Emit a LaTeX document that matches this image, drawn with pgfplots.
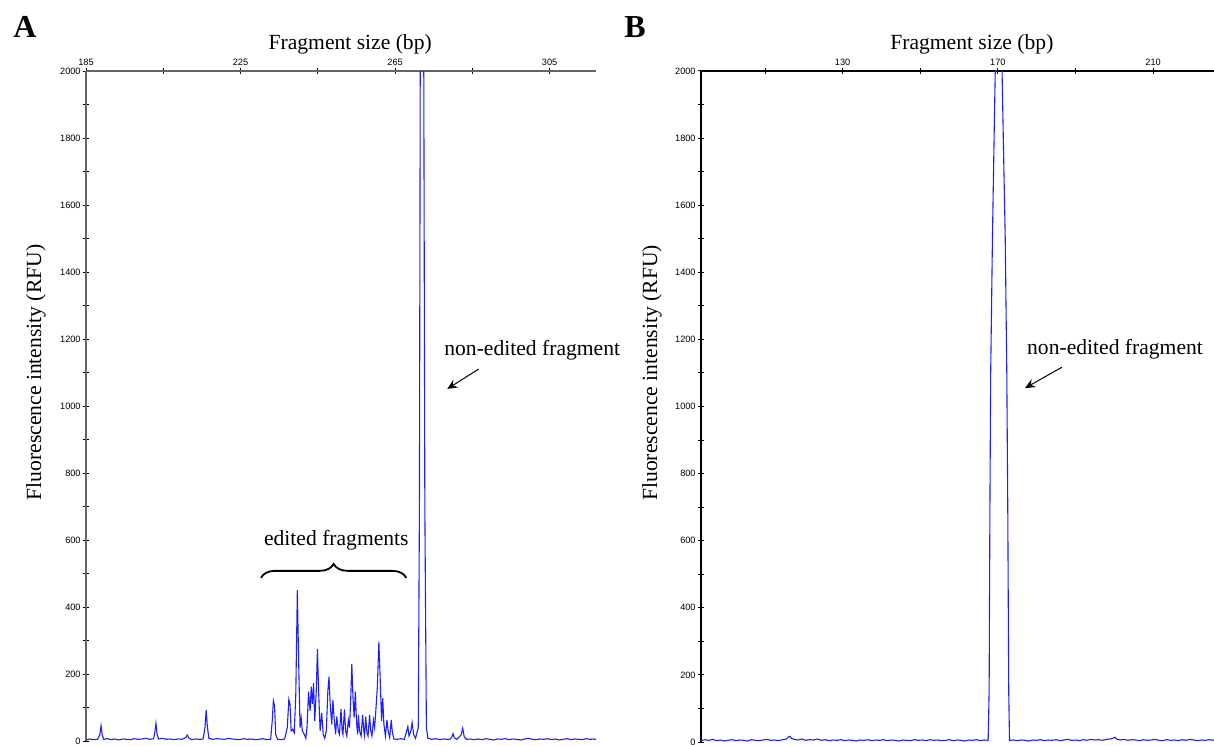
\documentclass[border=0pt]{standalone}
\usepackage{fontspec}
\setmainfont{Liberation Serif}
\newfontfamily\arial{Liberation Sans}
\usepackage{pgfplots}
\pgfplotsset{compat=1.18}
\usetikzlibrary{decorations.pathreplacing,arrows.meta}
\definecolor{trace}{RGB}{30,30,255}
\definecolor{axgray}{RGB}{100,100,100}

\pgfplotsset{gm/.style={
  scale only axis, ymin=0, ymax=2000, clip mode=individual,
  axis x line=top, axis y line=left,
  axis line style={-, line width=0.7pt},
  tick align=center, major tick length=3pt,
  tick style={black, line width=0.5pt},
  ytick={0,100,...,2000},
  yticklabels={0,,200,,400,,600,,800,,1000,,1200,,1400,,1600,,1800,,2000},
  tick label style={font=\arial\fontsize{4.6}{5.5}\selectfont},
  /pgf/number format/assume math mode=true,
  yticklabel style={inner sep=1pt},
  xticklabel style={inner sep=1pt},
  xlabel={Fragment size (bp)}, ylabel={Fluorescence intensity (RFU)},
  label style={font=\fontsize{10.8}{13}\selectfont},
}}

\begin{document}
\begin{tikzpicture}
\useasboundingbox (0,0) rectangle (607pt,372.5pt);

% panel A
\begin{axis}[gm, at={(43pt,2pt)}, anchor=south west, width=255pt, height=335pt,
  axis line style={axgray},
  xmin=185, xmax=317,
  xtick={185,205,...,305}, xticklabels={185,,225,,265,,305},
  xlabel style={at={(axis description cs:0.518,1.04)}, anchor=center},
  ylabel style={at={(axis description cs:-0.098,0.55)}, anchor=center}]
\addplot[trace, line width=0.55pt] table {
185 3
186 6
187 4
188 5
188.6 20
188.9 46
189.2 18
189.6 5
190.5 7
191.5 4
192.5 6
193.5 3
194.5 6
195.5 5
196.5 4
197.5 7
198.5 5
199.5 6
200.5 8
201.5 5
202.5 7
202.8 25
203.1 53
203.4 20
203.8 6
204.8 8
205.8 5
206.8 6
207.8 4
208.8 6
209.8 5
210.8 10
211.2 18
211.6 9
212.3 4
213.3 6
214.3 5
215.3 6
215.8 40
216.1 93
216.4 45
216.8 8
217.8 5
218.8 7
219.8 6
220.8 5
221.8 8
222.8 6
223.8 5
224.8 4
225.8 7
226.8 5
227.8 6
228.8 4
229.8 5
230.8 7
231.8 4
232.8 5
233.2 60
233.5 120
233.8 105
234.1 20
234.6 5
235.5 4
236.4 6
237.1 40
237.5 124
237.8 110
238.1 30
238.5 35
238.9 25
239.3 140
239.7 450
240.0 260
240.4 40
240.7 68
241.0 30
241.5 20
241.9 8
242.2 40
242.6 147
243.0 90
243.3 162
243.6 110
243.9 173
244.2 60
244.6 150
244.9 274
245.2 150
245.6 30
246.0 83
246.4 20
246.8 8
247.2 30
247.6 150
247.9 192
248.2 110
248.6 50
248.9 122
249.2 70
249.6 20
249.9 73
250.3 30
250.6 20
251.0 95
251.3 30
251.5 20
251.9 94
252.2 30
252.5 15
252.9 63
253.2 40
253.5 120
253.8 230
254.1 130
254.4 70
254.7 147
255.0 60
255.3 20
255.5 78
255.8 30
256.2 15
256.6 78
256.9 30
257.1 15
257.4 73
257.7 25
258.0 15
258.4 78
258.7 30
259.0 15
259.4 63
259.7 40
260.0 88
260.4 160
260.8 296
261.1 200
261.5 60
261.8 128
262.1 50
262.5 15
262.9 63
263.2 30
263.6 10
264.0 63
264.3 25
264.7 6
265.5 5
266.5 7
267.4 5
268.0 30
268.3 43
268.6 15
269.1 30
269.4 55
269.8 20
270.3 8
271.0 40
271.3 700
271.6 2600
272.3 2600
272.7 700
273.1 40
273.5 8
274.5 5
275.5 7
276.5 4
277.5 6
278.5 5
279.3 6
279.7 12
280.0 22
280.3 10
281.0 5
282.1 18
282.5 38
282.9 12
283.5 5
284.5 6
285.5 4
286.5 6
287.5 4
288.5 7
289.5 5
290.5 3
291.5 6
292.5 5
293.5 7
294.5 4
295.5 6
296.5 5
297.5 3
298.5 6
299.5 8
300.5 5
301.5 4
302.5 6
303.5 5
304.5 7
305.5 4
306.5 6
307.5 3
308.5 5
309.5 7
310.5 4
311.5 6
312.5 5
313.5 4
314.5 7
315.5 5
316.5 6
317 4
};
\draw[decorate, decoration={brace, amplitude=7pt}, line width=0.9pt]
  (axis cs:230.3,487) -- (axis cs:267.9,487);
\node[font=\fontsize{10.8}{13}\selectfont] at (axis cs:249.8,600) {edited fragments};
\node[font=\fontsize{10.8}{13}\selectfont] at (axis cs:300.5,1167) {non-edited fragment};
\draw[-{Stealth[length=5pt,width=4.5pt]}, line width=0.5pt]
  (axis cs:286.6,1110) -- (axis cs:278.5,1051);
\end{axis}

% panel B
\begin{axis}[gm, at={(350.5pt,1.5pt)}, anchor=south west, width=256.5pt, height=335.5pt,
  axis line style={black},
  xmin=93.5, xmax=225.7,
  xtick={110,130,...,210}, xticklabels={,130,,170,,210},
  xlabel style={at={(axis description cs:0.528,1.04)}, anchor=center},
  ylabel style={at={(axis description cs:-0.0955,0.55)}, anchor=center}]
\addplot[trace, line width=0.55pt] table {
93.5 4
94.5 7
95.5 5
96.5 8
97.5 4
98.5 6
99.5 3
100.5 5
101.5 7
102.5 4
103.5 6
104.5 5
105.5 3
106.5 7
107.5 5
108.5 4
109.5 6
110.5 8
111.5 5
112.5 6
113.5 4
114.5 7
115.5 9
116.0 15
116.4 17
116.8 11
117.5 8
118.5 6
119.5 9
120.5 5
121.5 7
122.5 6
123.5 9
124.5 5
125.5 7
126.5 4
127.5 6
128.5 5
129.5 7
130.5 4
131.5 6
132.5 5
133.5 3
134.5 6
135.5 5
136.5 7
137.5 4
138.5 6
139.5 5
140.5 7
141.5 4
142.5 6
143.5 5
144.5 3
145.5 6
146.5 5
147.5 4
148.5 7
149.5 5
150.5 6
151.5 4
152.5 7
153.5 5
154.5 6
155.5 4
156.5 5
157.5 7
158.5 4
159.5 6
160.5 5
161.5 3
162.5 6
163.5 5
164.5 7
165.5 4
166.5 6
167.5 5
167.75 150
167.95 700
168.15 1100
168.6 1500
169.1 1850
169.4 2050
170.2 2600
171.0 2050
171.4 1800
171.9 1500
172.3 1100
172.55 700
172.8 150
173.0 5
174.0 6
175.0 4
176.0 6
177.0 5
178.0 3
179.0 6
180.0 5
181.0 7
182.0 4
183.0 6
184.0 5
185.0 7
186.0 4
187.0 6
188.0 8
189.0 5
190.0 6
191.0 4
192.0 7
193.0 5
194.0 8
195.0 6
196.0 7
197.0 5
198.0 8
199.0 9
199.8 12
200.2 14
200.6 9
201.5 6
202.5 8
203.5 5
204.5 7
205.5 6
206.5 4
207.5 7
208.5 5
209.5 6
210.5 8
211.5 5
212.5 4
213.5 7
214.5 5
215.5 6
216.5 4
217.5 7
218.5 5
219.5 8
220.5 6
221.5 4
222.5 6
223.5 5
224.5 7
225.7 5
};
\node[font=\fontsize{10.8}{13}\selectfont] at (axis cs:200.2,1171) {non-edited fragment};
\draw[-{Stealth[length=5pt,width=4.5pt]}, line width=0.5pt]
  (axis cs:186.5,1117) -- (axis cs:177.0,1055);
\end{axis}

\node[font=\fontsize{16}{18}\selectfont\bfseries] at (12.5pt,359pt) {A};
\node[font=\fontsize{16}{18}\selectfont\bfseries] at (317.5pt,359pt) {B};
\end{tikzpicture}
\end{document}
